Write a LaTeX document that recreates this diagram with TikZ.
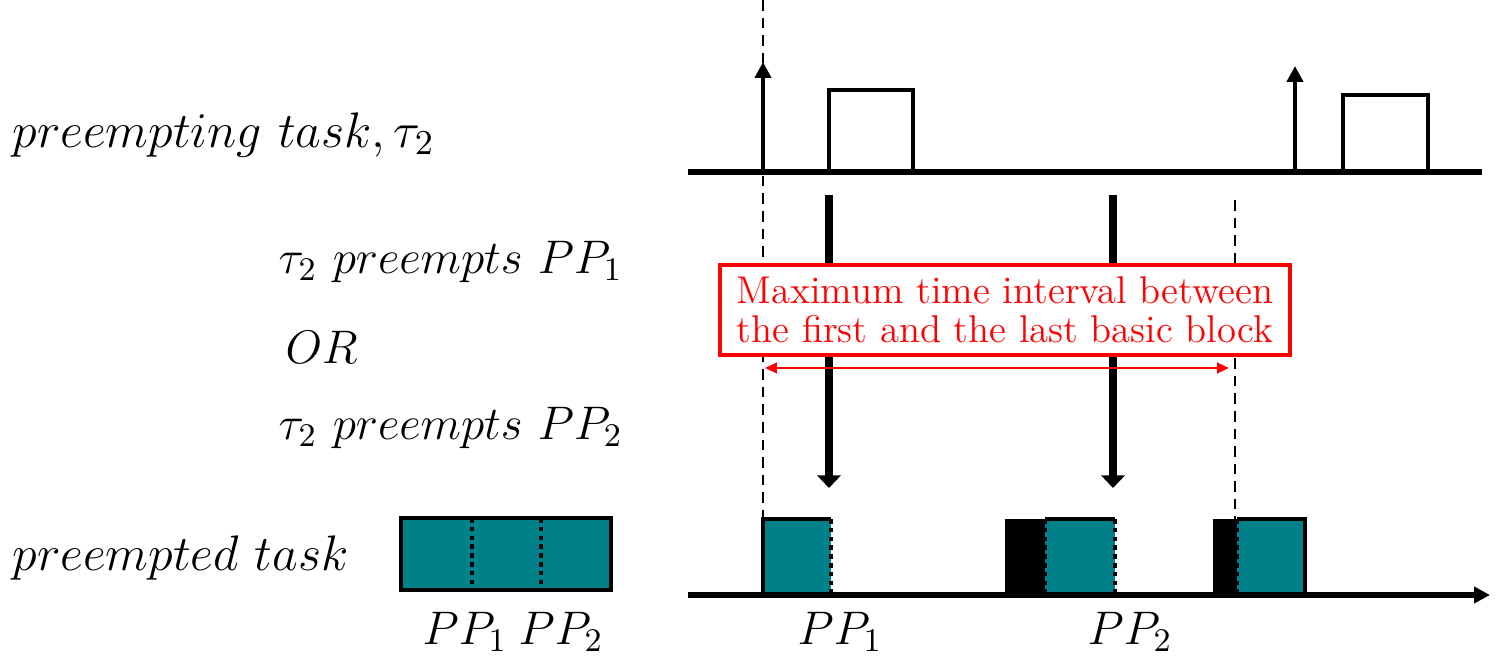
\documentclass[tikz,border=0pt]{standalone}
\usepackage{fix-cm}
\usetikzlibrary{arrows.meta,positioning,calc}

\definecolor{blockteal}{RGB}{0,128,136}

\begin{document}
\begin{tikzpicture}[
    x=0.01cm, y=-0.01cm,
    >=Latex,
    font=\fontsize{13.4}{16}\selectfont,
    axis/.style={line width=1.5pt},
    release/.style={-{Triangle[length=4.5pt,width=4.5pt]}, line width=1.3pt},
    job/.style={line width=1.3pt},
    guide/.style={line width=0.6pt, dash pattern=on 3pt off 2pt},
    preempt/.style={-{Triangle[length=3.6pt,width=6.6pt]}, line width=2.5pt},
    pp/.style={line width=1.4pt, dash pattern=on 1.3pt off 1.2pt},
    edge/.style={line width=1.4pt},
    note/.style={draw=red, line width=1.2pt, text=red, fill=white, align=center,
        minimum width=5.7cm, minimum height=0.9cm, inner sep=2pt,
        font=\fontsize{11}{11}\selectfont},
    span/.style={{Triangle[length=3.4pt,width=3pt]}-{Triangle[length=3.4pt,width=3pt]},
        red, line width=0.7pt},
    lbl/.style={anchor=west, inner sep=0pt},
    big/.style={font=\fontsize{14.2}{16}\selectfont}
]

\useasboundingbox (0,0) rectangle (1496,658);

\def\ytop{172}
\def\ybot{595}
\def\yblk{519}

% ============================================================
% LABELS
% ============================================================

\node[lbl, big] (tau2) at (12,135) {$preempting\ task, \tau_2$};
\node[lbl] (pre1) at (278,262) {$\tau_2\ preempts\ PP_1$};
\node[lbl] (orr) at (285,347) {$OR$};
\node[lbl] (pre2) at (278,428) {$\tau_2\ preempts\ PP_2$};
\node[lbl, big] (tau1) at (12,558) {$preempted\ task$};

% ============================================================
% PREEMPTING TASK
% ============================================================

\coordinate (r1) at (763,\ytop);
\coordinate (r1tip) at (763,62);
\coordinate (r2) at (1295,\ytop);
\coordinate (r2tip) at (1295,66);

\draw[job] (829,\ytop) |- (913,90) -- (913,\ytop);
\draw[job] (1343,\ytop) |- (1428,95) -- (1428,\ytop);
\draw[axis] (688,\ytop) -- (1482,\ytop);
\draw[release] (r1) -- (r1tip);
\draw[release] (r2) -- (r2tip);

% ============================================================
% GUIDES AND PREEMPTIONS
% ============================================================

\coordinate (g1a) at (763,0);
\coordinate (g1b) at (763,\yblk);
\coordinate (g2a) at (1235,200);
\coordinate (g2b) at (1235,\yblk);
\draw[guide] (g1a) -- (g1b);
\draw[guide] (g2a) -- (g2b);

\coordinate (p1a) at (829,195);
\coordinate (p1b) at (829,488);
\coordinate (p2a) at (1113,195);
\coordinate (p2b) at (1113,488);
\draw[preempt] (p1a) -- (p1b);
\draw[preempt] (p2a) -- (p2b);

\node[note] (note) at (1005,310) {Maximum time interval between\\the first and the last basic block};

\coordinate (s1) at (765,368);
\coordinate (s2) at (1229,368);
\draw[span] (s1) -- (s2);

% ============================================================
% PREEMPTED TASK
% ============================================================

% whole task with its two preemption points
\fill[blockteal] (401,518) rectangle (611,590);
\draw[edge] (401,518) rectangle (611,590);
\foreach \x in {472,541} {
    \draw[pp] (\x,518) -- (\x,590);
}
\node (lp1) at (465,632) {$PP_1$};
\node (lp2) at (561,632) {$PP_2$};

% run split at the preemption points
\fill[blockteal] (763,\yblk) rectangle (831,\ybot);
\draw[edge] (831,\yblk) -- (763,\yblk) -- (763,\ybot);
\draw[pp] (831,\yblk) -- (831,\ybot);

\fill[black] (1005,\yblk) rectangle (1045,\ybot);
\fill[blockteal] (1045,\yblk) rectangle (1115,\ybot);
\draw[edge] (1045,\yblk) -- (1115,\yblk);
\draw[pp] (1045,\yblk) -- (1045,\ybot);
\draw[pp] (1115,\yblk) -- (1115,\ybot);

\fill[black] (1213,\yblk) rectangle (1237,\ybot);
\fill[blockteal] (1237,\yblk) rectangle (1305,\ybot);
\draw[edge] (1237,\yblk) -| (1305,\ybot);
\draw[pp] (1237,\yblk) -- (1237,\ybot);

\draw[axis, -{Triangle[length=4.5pt,width=4.5pt]}] (688,\ybot) -- (1490,\ybot);

\node (bp1) at (840,632) {$PP_1$};
\node (bp2) at (1130,632) {$PP_2$};

\end{tikzpicture}
\end{document}
